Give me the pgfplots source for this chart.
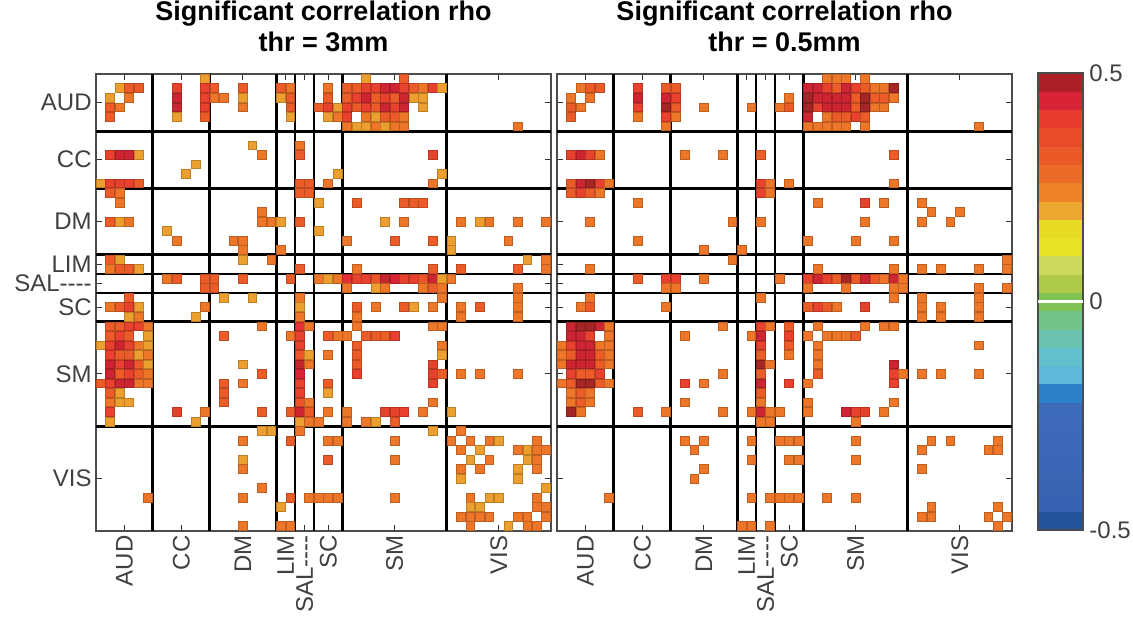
\documentclass[border=0pt]{standalone}
\usepackage{pgfplots}
\usepackage{pgfplotstable}
\usepackage{fontspec}
\setmainfont{Liberation Sans}
\pgfplotsset{compat=1.18}
\definecolor{lblgray}{RGB}{64,64,64}
\newcommand\salab{SAL-{}-{}-{}-}

% upper triangle of each symmetric matrix: row i, column j, rho
\pgfplotstableread{
i j v
1 2 0.21
1 3 0.31
1 4 0.31
2 3 0.26
1 8 0.39
2 8 0.45
3 8 0.45
4 8 0.21
0 11 0.21
1 11 0.39
2 11 0.39
3 11 0.39
4 11 0.31
1 12 0.31
2 12 0.26
2 13 0.26
1 15 0.31
2 15 0.21
3 15 0.26
1 19 0.31
1 20 0.26
2 19 0.21
2 20 0.31
3 20 0.31
4 20 0.21
1 24 0.26
2 24 0.31
3 23 0.31
3 24 0.39
3 25 0.21
4 24 0.21
4 25 0.26
0 28 0.21
0 32 0.31
1 26 0.31
1 27 0.31
1 28 0.39
1 29 0.39
1 30 0.45
1 31 0.45
1 32 0.39
1 33 0.31
1 34 0.26
1 35 0.39
1 36 0.21
2 26 0.31
2 27 0.39
2 28 0.45
2 29 0.31
2 30 0.39
2 31 0.31
2 32 0.45
2 33 0.21
2 34 0.21
3 26 0.39
3 27 0.31
3 28 0.39
3 29 0.31
3 30 0.45
3 31 0.39
3 32 0.45
3 34 0.21
4 26 0.39
4 28 0.26
4 29 0.21
4 30 0.31
4 31 0.31
4 32 0.26
5 26 0.26
5 27 0.21
5 28 0.21
5 29 0.26
5 30 0.21
5 31 0.26
5 32 0.26
5 44 0.26
9 10 0.21
7 16 0.21
8 17 0.26
7 21 0.26
8 21 0.31
11 21 0.31
11 22 0.31
11 24 0.26
10 25 0.21
8 35 0.39
10 36 0.21
11 35 0.26
14 17 0.26
15 17 0.26
15 18 0.26
15 19 0.21
18 19 0.26
12 21 0.31
12 22 0.31
15 21 0.31
13 23 0.21
16 23 0.21
13 27 0.31
13 32 0.31
13 33 0.31
13 34 0.31
15 30 0.21
15 32 0.26
17 26 0.26
17 31 0.31
17 35 0.31
15 38 0.26
15 40 0.21
15 41 0.26
15 44 0.26
15 47 0.26
17 37 0.21
18 37 0.21
17 43 0.26
20 21 0.31
20 27 0.26
20 35 0.31
20 38 0.31
20 44 0.31
19 45 0.21
19 47 0.26
20 47 0.26
21 23 0.26
21 24 0.21
21 25 0.26
21 26 0.42
21 27 0.39
21 28 0.39
21 29 0.33
21 30 0.46
21 31 0.44
21 32 0.39
21 33 0.39
21 34 0.33
21 35 0.45
21 36 0.21
22 26 0.26
22 29 0.21
22 30 0.26
22 34 0.26
22 35 0.31
22 36 0.26
21 37 0.26
22 44 0.26
24 27 0.31
25 27 0.26
24 29 0.26
24 32 0.31
24 33 0.21
24 35 0.26
23 36 0.26
24 38 0.26
25 38 0.26
24 40 0.31
23 44 0.26
24 44 0.26
25 44 0.26
26 27 0.26
27 28 0.31
27 29 0.31
27 30 0.31
27 31 0.39
26 35 0.26
26 36 0.26
28 36 0.26
29 36 0.21
30 35 0.39
31 35 0.39
32 35 0.39
31 36 0.31
34 35 0.26
35 37 0.21
31 38 0.26
31 40 0.26
31 44 0.26
37 38 0.26
38 39 0.26
38 41 0.26
38 42 0.21
39 40 0.21
40 41 0.26
38 46 0.26
39 44 0.26
39 45 0.21
39 46 0.26
39 47 0.26
40 45 0.21
40 46 0.26
41 46 0.26
41 44 0.21
42 44 0.21
43 47 0.21
44 46 0.26
45 46 0.26
45 47 0.26
46 47 0.26
}\thrthree

\pgfplotstableread{
i j v
1 2 0.26
1 3 0.31
1 4 0.31
2 3 0.26
1 8 0.39
2 8 0.45
3 8 0.39
4 8 0.26
1 11 0.31
2 11 0.45
3 11 0.49
4 11 0.39
5 11 0.26
1 12 0.31
2 12 0.39
3 12 0.31
4 12 0.26
3 15 0.26
3 20 0.26
3 23 0.26
2 24 0.26
3 24 0.31
0 28 0.26
0 29 0.26
0 30 0.26
0 32 0.26
1 26 0.45
1 27 0.45
1 28 0.39
1 29 0.31
1 30 0.45
1 31 0.39
1 32 0.31
1 33 0.26
1 34 0.26
1 35 0.49
2 26 0.49
2 27 0.45
2 28 0.45
2 29 0.45
2 30 0.45
2 31 0.31
2 32 0.49
2 33 0.31
2 34 0.31
2 35 0.26
3 26 0.49
3 27 0.39
3 28 0.45
3 29 0.45
3 30 0.45
3 31 0.31
3 32 0.49
3 33 0.26
3 34 0.26
4 26 0.45
4 28 0.26
4 29 0.31
4 30 0.31
4 31 0.39
4 32 0.31
5 26 0.26
5 27 0.26
5 28 0.26
5 29 0.26
5 30 0.26
5 32 0.26
5 44 0.26
8 13 0.26
8 17 0.26
8 21 0.31
11 21 0.39
11 22 0.26
11 24 0.26
8 35 0.31
11 35 0.26
15 18 0.26
18 19 0.26
12 21 0.39
12 22 0.26
15 21 0.26
13 27 0.26
13 32 0.39
13 34 0.26
15 32 0.26
17 26 0.26
17 31 0.26
17 35 0.26
13 38 0.26
14 39 0.26
15 38 0.26
15 41 0.26
14 42 0.26
20 27 0.26
20 35 0.26
20 38 0.26
20 40 0.26
20 44 0.26
19 47 0.26
20 47 0.26
21 23 0.26
21 26 0.39
21 27 0.45
21 28 0.39
21 29 0.31
21 30 0.49
21 31 0.31
21 32 0.45
21 33 0.31
21 34 0.26
21 35 0.45
21 36 0.26
22 26 0.26
22 30 0.26
22 35 0.26
22 36 0.26
22 44 0.26
22 47 0.26
24 26 0.31
24 27 0.39
24 28 0.31
24 29 0.26
24 32 0.39
23 35 0.26
23 38 0.26
24 38 0.26
25 38 0.26
24 40 0.26
25 40 0.26
23 44 0.26
24 44 0.26
25 44 0.26
26 27 0.26
27 28 0.26
27 29 0.26
27 30 0.26
27 31 0.31
26 32 0.26
26 34 0.26
26 35 0.26
30 35 0.45
31 35 0.39
32 35 0.39
31 36 0.26
34 35 0.26
31 38 0.26
31 40 0.26
31 44 0.26
28 44 0.26
38 39 0.26
38 41 0.26
38 46 0.26
39 45 0.26
39 46 0.26
45 46 0.26
46 47 0.26
}\thrhalf

% colour scale bands: x, band centre, value
\pgfplotstableread{
x y c
0.25 -0.48 -0.48
0.75 -0.48 -0.48
0.25 -0.44 -0.44
0.75 -0.44 -0.44
0.25 -0.40 -0.40
0.75 -0.40 -0.40
0.25 -0.36 -0.36
0.75 -0.36 -0.36
0.25 -0.32 -0.32
0.75 -0.32 -0.32
0.25 -0.28 -0.28
0.75 -0.28 -0.28
0.25 -0.24 -0.24
0.75 -0.24 -0.24
0.25 -0.20 -0.20
0.75 -0.20 -0.20
0.25 -0.16 -0.16
0.75 -0.16 -0.16
0.25 -0.12 -0.12
0.75 -0.12 -0.12
0.25 -0.08 -0.08
0.75 -0.08 -0.08
0.25 -0.04 -0.04
0.75 -0.04 -0.04
0.25 0.00 0.00
0.75 0.00 0.00
0.25 0.04 0.04
0.75 0.04 0.04
0.25 0.08 0.08
0.75 0.08 0.08
0.25 0.12 0.12
0.75 0.12 0.12
0.25 0.16 0.16
0.75 0.16 0.16
0.25 0.20 0.20
0.75 0.20 0.20
0.25 0.24 0.24
0.75 0.24 0.24
0.25 0.28 0.28
0.75 0.28 0.28
0.25 0.32 0.32
0.75 0.32 0.32
0.25 0.36 0.36
0.75 0.36 0.36
0.25 0.40 0.40
0.75 0.40 0.40
0.25 0.44 0.44
0.75 0.44 0.44
0.25 0.48 0.48
0.75 0.48 0.48
}\scalebands

\pgfplotsset{
  colormap={rho}{
    rgb255(0pt)=(22,72,132); rgb255(30pt)=(45,88,165); rgb255(60pt)=(58,98,178);
    rgb255(280pt)=(62,108,186); rgb255(300pt)=(46,128,200); rgb255(312pt)=(92,180,226);
    rgb255(380pt)=(98,192,205); rgb255(450pt)=(112,194,150); rgb255(500pt)=(128,194,84);
    rgb255(520pt)=(160,194,64); rgb255(580pt)=(204,218,96); rgb255(620pt)=(232,226,36);
    rgb255(688pt)=(232,214,34); rgb255(700pt)=(236,168,48); rgb255(740pt)=(238,130,40);
    rgb255(770pt)=(238,112,40); rgb255(810pt)=(236,92,40); rgb255(870pt)=(232,72,42);
    rgb255(910pt)=(232,58,48); rgb255(935pt)=(222,34,58); rgb255(955pt)=(200,40,48);
    rgb255(975pt)=(176,28,40); rgb255(1000pt)=(158,44,34)
  },
  rhomat/.style={
    scale only axis, width=227.5pt, height=228.5pt,
    xmin=-0.5, xmax=47.5, ymin=-0.5, ymax=47.5,
    axis on top,
    colormap name=rho, point meta min=-0.5, point meta max=0.5,
    xtick={2.5,8.5,15,19.5,21.5,24,31,42},
    xticklabels={AUD,CC,DM,LIM,\salab,SC,SM,VIS},
    ytick={5,16,23,25.5,27.5,32,38.5,44.5},
    tick align=inside, tick pos=both, major tick length=3pt,
    tick style={black!80, line width=0.5pt},
    tick label style={font=\fontsize{12}{14}\selectfont, text=lblgray},
    xticklabel style={rotate=90, anchor=east, inner sep=2pt},
    yticklabel style={inner sep=0pt, xshift=-2pt},
    extra x ticks={5.5,11.5,18.5,20.5,22.5,25.5,36.5},
    extra y ticks={10.5,21.5,24.5,26.5,28.5,35.5,41.5},
    extra x tick labels={}, extra y tick labels={},
    extra tick style={grid=major, major tick length=0pt},
    major grid style={black, line width=1.4pt},
    axis line style={black!70, line width=0.6pt},
    title style={align=center, font=\bfseries\fontsize{13.5}{15.5}\selectfont,
      inner sep=0pt, yshift=5pt},
  },
  cells/.style={scatter, only marks, mark=square*, mark size=2.2pt, scatter src=explicit},
}

\begin{document}
\begin{tikzpicture}
\begin{axis}[rhomat, at={(0pt,0pt)}, anchor=north west,
  title={Significant correlation rho\\thr = 3mm},
  yticklabels={VIS,SM,SC,\salab,LIM,DM,CC,AUD}]
\addplot[cells] table[x=j, y expr=47-\thisrow{i}, meta=v] {\thrthree};
\addplot[cells] table[x=i, y expr=47-\thisrow{j}, meta=v] {\thrthree};
\end{axis}

\begin{axis}[rhomat, at={(230.5pt,0pt)}, anchor=north west,
  title={Significant correlation rho\\thr = 0.5mm},
  yticklabels={}]
\addplot[cells] table[x=j, y expr=47-\thisrow{i}, meta=v] {\thrhalf};
\addplot[cells] table[x=i, y expr=47-\thisrow{j}, meta=v] {\thrhalf};
\end{axis}

% colour scale
\begin{axis}[at={(471pt,0.5pt)}, anchor=north west,
  scale only axis, width=22.5pt, height=228.5pt,
  xmin=0, xmax=1, ymin=-0.5, ymax=0.5,
  colormap name=rho, point meta min=-0.5, point meta max=0.5,
  xtick=\empty, ytick={-0.5,0,0.5}, yticklabels={-0.5,0,0.5},
  ytick pos=right, yticklabel pos=right,
  yticklabel style={font=\fontsize{12}{14}\selectfont, text=lblgray,
    inner sep=0pt, anchor=west, xshift=3pt},
  tick align=inside, major tick length=3pt,
  tick style={black, line width=0.6pt},
  axis line style={black!70, line width=0.6pt},
  axis on top,
  extra y ticks={0}, extra y tick labels={},
  extra y tick style={grid=major, major tick length=0pt},
  major grid style={white, line width=1.2pt}]
\addplot[matrix plot*, mesh/cols=2, point meta=explicit]
  table[x=x, y=y, meta=c] {\scalebands};
\end{axis}

\path (-48pt,37pt) rectangle (518.5pt,-269.5pt);
\end{tikzpicture}
\end{document}
